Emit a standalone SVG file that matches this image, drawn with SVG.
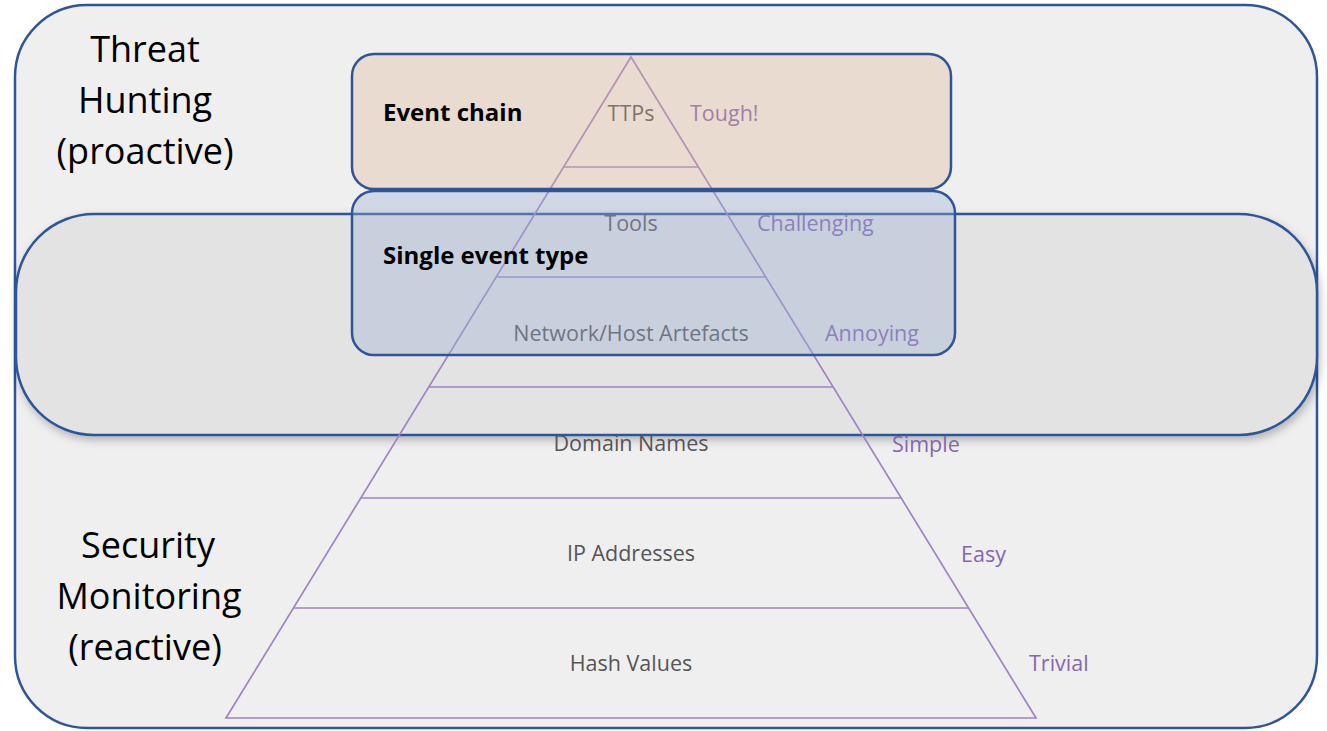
<svg xmlns="http://www.w3.org/2000/svg" width="1327" height="731" viewBox="0 0 1327 731">
  <style>
    .frame { stroke: #2f5597; stroke-width: 2.5; }
    .side { font-family: "Open Sans", "Liberation Sans", sans-serif; font-size: 36px; fill: #000; text-anchor: middle; }
    .tier { font-family: "Open Sans", "Liberation Sans", sans-serif; font-size: 21.5px; fill: #555555; text-anchor: middle; }
    .pain { font-family: "Open Sans", "Liberation Sans", sans-serif; font-size: 21.5px; fill: #8566b0; }
    .scope { font-family: "Open Sans", "Liberation Sans", sans-serif; font-size: 24px; font-weight: bold; fill: #000; }
    .pyr { stroke: #9f84c4; stroke-width: 1.7; fill: none; }
  </style>
  <defs>
    <filter id="shadow" x="-5%" y="-10%" width="110%" height="130%">
      <feDropShadow dx="2" dy="4" stdDeviation="4" flood-color="#000" flood-opacity="0.25"/>
    </filter>
  </defs>

  <rect width="1327" height="731" fill="#ffffff"/>

  <!-- outer panel -->
  <g id="panel">
    <rect class="frame" x="15" y="5" width="1302" height="723" rx="72" ry="72" fill="#efefef"/>
    <text class="side" x="145" y="62">Threat</text>
    <text class="side" x="145" y="113">Hunting</text>
    <text class="side" x="145" y="164">(proactive)</text>
    <text class="side" x="148" y="558">Security</text>
    <text class="side" x="149" y="609">Monitoring</text>
    <text class="side" x="145" y="660">(reactive)</text>
  </g>

  <!-- middle band -->
  <g id="band">
    <rect class="frame" x="16" y="214" width="1301" height="221" rx="78" ry="78" fill="#e3e3e3" filter="url(#shadow)"/>
  </g>

  <!-- pyramid of pain -->
  <g id="pyramid">
    <polygon class="pyr" points="631,57 1036,718 226,718"/>
    <line class="pyr" x1="563.6" y1="167" x2="698.4" y2="167"/>
    <line class="pyr" x1="496.2" y1="277" x2="765.8" y2="277"/>
    <line class="pyr" x1="428.8" y1="387" x2="833.2" y2="387"/>
    <line class="pyr" x1="360.8" y1="498" x2="901.2" y2="498"/>
    <line class="pyr" x1="293.4" y1="608" x2="968.6" y2="608"/>

    <text class="tier" x="631" y="121">TTPs</text>
    <text class="tier" x="631" y="231">Tools</text>
    <text class="tier" x="631" y="341">Network/Host Artefacts</text>
    <text class="tier" x="631" y="451">Domain Names</text>
    <text class="tier" x="631" y="561">IP Addresses</text>
    <text class="tier" x="631" y="671">Hash Values</text>

    <text class="pain" x="690" y="121">Tough!</text>
    <text class="pain" x="757" y="231">Challenging</text>
    <text class="pain" x="825" y="341">Annoying</text>
    <text class="pain" x="892" y="452">Simple</text>
    <text class="pain" x="961" y="562">Easy</text>
    <text class="pain" x="1029" y="671">Trivial</text>
  </g>

  <!-- event chain box -->
  <g id="event-chain">
    <rect class="frame" x="352" y="54" width="599" height="135" rx="22" ry="22" fill="#e0b090" fill-opacity="0.32"/>
    <text class="scope" x="383" y="121">Event chain</text>
  </g>

  <!-- single event type box -->
  <g id="single-event">
    <rect class="frame" x="352" y="191" width="603" height="164" rx="22" ry="22" fill="#9aaed4" fill-opacity="0.36"/>
    <text class="scope" x="383" y="264">Single event type</text>
  </g>
</svg>
